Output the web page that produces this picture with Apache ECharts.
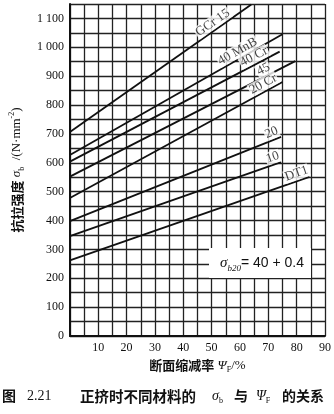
<!DOCTYPE html>
<html>
<head>
<meta charset="utf-8">
<script src="https://cdn.jsdelivr.net/npm/echarts@6/dist/echarts.min.js"></script>
<style>
html,body{margin:0;padding:0;background:#fff;}
#c{width:334px;height:414px;}
</style>
</head>
<body>
<div id="c"></div>
<script>
// ---- data ----
var seriesNames = ['GCr 15', '40 MnB', '40 Cr', '45', '20 Cr', '20', '10', 'DT1'];
var lineGCr15 = [[0, 707], [64, 1148]];
var line40MnB = [[0, 627], [75, 1045]];
var line40Cr  = [[0, 604], [74, 985]];
var line45    = [[0, 552], [79.5, 952]];
var line20Cr  = [[0, 478], [75, 880]];
var line20    = [[0, 398], [74.5, 690]];
var line10    = [[0, 346], [74.5, 602]];
var lineDT1   = [[0, 262], [84.5, 551]];
var xTickLabels = ['10', '20', '30', '40', '50', '60', '70', '80', '90'];
var yTickLabels = ['0', '100', '200', '300', '400', '500', '600', '700', '800', '900', '1 000', '1 100'];

// ---- layout (label anchor along each line, in x-units) ----
var labelAnchorX = [51.7, 60.3, 66, 69.3, 69.3, 72, 72.3, 80.7];

var lines = [lineGCr15, line40MnB, line40Cr, line45, line20Cr, line20, line10, lineDT1];
function interp(line, x) {
  var a = line[0], b = line[line.length - 1];
  return a[1] + (b[1] - a[1]) * (x - a[0]) / (b[0] - a[0]);
}

var serif = '"Liberation Serif", "DejaVu Serif", serif';
var cjk = '"Noto Sans CJK SC", sans-serif';

var chart = echarts.init(document.getElementById('c'), null, {renderer: 'canvas'});

var baseSeries = lines.map(function (ln, i) {
  return {
    type: 'line', name: seriesNames[i], data: ln, symbol: 'none', silent: true,
    lineStyle: {color: '#111', width: 1.8}, z: 3
  };
});

function capText(x, text, style) {
  var s = {text: text, align: 'left', verticalAlign: 'middle', fill: '#111'};
  for (var k in style) s[k] = style[k];
  return {type: 'text', z: 11, x: x, y: 396, style: s};
}

var capRich = {
  s: {fontFamily: serif, fontStyle: 'italic', fontSize: 14, fill: '#111'},
  sub: {fontFamily: serif, fontSize: 8, fill: '#111', verticalAlign: 'bottom', lineHeight: 18}
};

var option = {
  animation: false,
  backgroundColor: '#fff',
  grid: {left: 57, right: 7, top: 4, bottom: 78, show: false},
  xAxis: {
    type: 'value', min: 0, max: 90, interval: 5,
    axisLine: {show: true, lineStyle: {color: '#111', width: 2}},
    axisTick: {show: false},
    splitLine: {show: true, lineStyle: {color: '#222', width: 1.3}},
    axisLabel: {
      color: '#111', fontFamily: serif, fontSize: 12, margin: 6,
      formatter: function (v) { return (v % 10 === 0 && v > 0) ? xTickLabels[v / 10 - 1] : ''; }
    },
    name: '{c|断面缩减率} {s|Ψ}{sub|F}{t|/%}',
    nameLocation: 'middle', nameGap: 19,
    nameTextStyle: {
      rich: {
        c: {fontFamily: cjk, fontWeight: 'bold', fontSize: 13, color: '#111'},
        s: {fontFamily: serif, fontStyle: 'italic', fontSize: 13, color: '#111'},
        sub: {fontFamily: serif, fontSize: 8, color: '#111', verticalAlign: 'bottom', lineHeight: 18},
        t: {fontFamily: serif, fontSize: 13, color: '#111'}
      }
    }
  },
  yAxis: {
    type: 'value', min: 0, max: 1150, interval: 50,
    axisLine: {show: true, lineStyle: {color: '#111', width: 2}},
    axisTick: {show: false},
    splitLine: {show: true, lineStyle: {color: '#222', width: 1.3}},
    axisLabel: {
      color: '#111', fontFamily: serif, fontSize: 12, margin: 6,
      formatter: function (v) { return (v % 100 === 0) ? yTickLabels[v / 100] : ''; }
    },
    name: '{c|抗拉强度} {s|σ}{sub|b} {t| /(N·mm}{sup|-2}{t|)}',
    nameLocation: 'middle', nameGap: 40, nameRotate: 90,
    nameTextStyle: {
      rich: {
        c: {fontFamily: cjk, fontWeight: 'bold', fontSize: 13, color: '#111'},
        s: {fontFamily: serif, fontStyle: 'italic', fontSize: 13, color: '#111'},
        sub: {fontFamily: serif, fontSize: 8, color: '#111', verticalAlign: 'bottom', lineHeight: 18},
        sup: {fontFamily: serif, fontSize: 8, color: '#111', verticalAlign: 'top', lineHeight: 18},
        t: {fontFamily: serif, fontSize: 13, color: '#111'}
      }
    }
  },
  series: baseSeries,
  graphic: [
    {
      type: 'rect', z: 10,
      shape: {x: 209, y: 248, width: 102, height: 30},
      style: {fill: '#fff'}
    },
    {
      type: 'text', z: 11, x: 262, y: 263,
      style: {
        text: '{s|σ}{sub|b20}{t|= 40 + 0.4}',
        align: 'center', verticalAlign: 'middle',
        rich: {
          s: {fontFamily: serif, fontStyle: 'italic', fontSize: 15, fill: '#111'},
          sub: {fontFamily: serif, fontStyle: 'italic', fontSize: 9, fill: '#111', verticalAlign: 'bottom', lineHeight: 20},
          t: {fontFamily: '"Liberation Sans", Arial, sans-serif', fontSize: 14, fill: '#111'}
        }
      }
    },
    capText(2, '图', {fontFamily: cjk, fontWeight: 'bold', fontSize: 14}),
    capText(27, '2.21', {fontFamily: serif, fontSize: 14}),
    capText(80, '正挤时不同材料的', {fontFamily: cjk, fontWeight: 'bold', fontSize: 14.5}),
    capText(212, '{s|σ}{sub|b}', {rich: capRich}),
    capText(234, '与', {fontFamily: cjk, fontWeight: 'bold', fontSize: 14}),
    capText(256, '{s|Ψ}{sub|F}', {rich: capRich}),
    capText(282, '的关系', {fontFamily: cjk, fontWeight: 'bold', fontSize: 14})
  ]
};
chart.setOption(option);

// label series: positioned on each line through the axes, rotated to the line's on-screen slope
var labelSeries = lines.map(function (ln, i) {
  var a = chart.convertToPixel({gridIndex: 0}, ln[0]);
  var b = chart.convertToPixel({gridIndex: 0}, ln[ln.length - 1]);
  var ang = Math.atan2(a[1] - b[1], b[0] - a[0]) * 180 / Math.PI;
  var ax = labelAnchorX[i];
  return {
    type: 'scatter', silent: true, symbolSize: 0, z: 5,
    data: [[ax, interp(ln, ax)]],
    label: {
      show: true, formatter: seriesNames[i], position: [0, -1],
      align: 'center', verticalAlign: 'bottom', rotate: ang,
      fontFamily: serif, fontSize: 13, color: '#111',
      backgroundColor: '#fff', padding: [0, 1, 0, 1]
    }
  };
});
chart.setOption({series: baseSeries.concat(labelSeries)});
</script>
</body>
</html>
